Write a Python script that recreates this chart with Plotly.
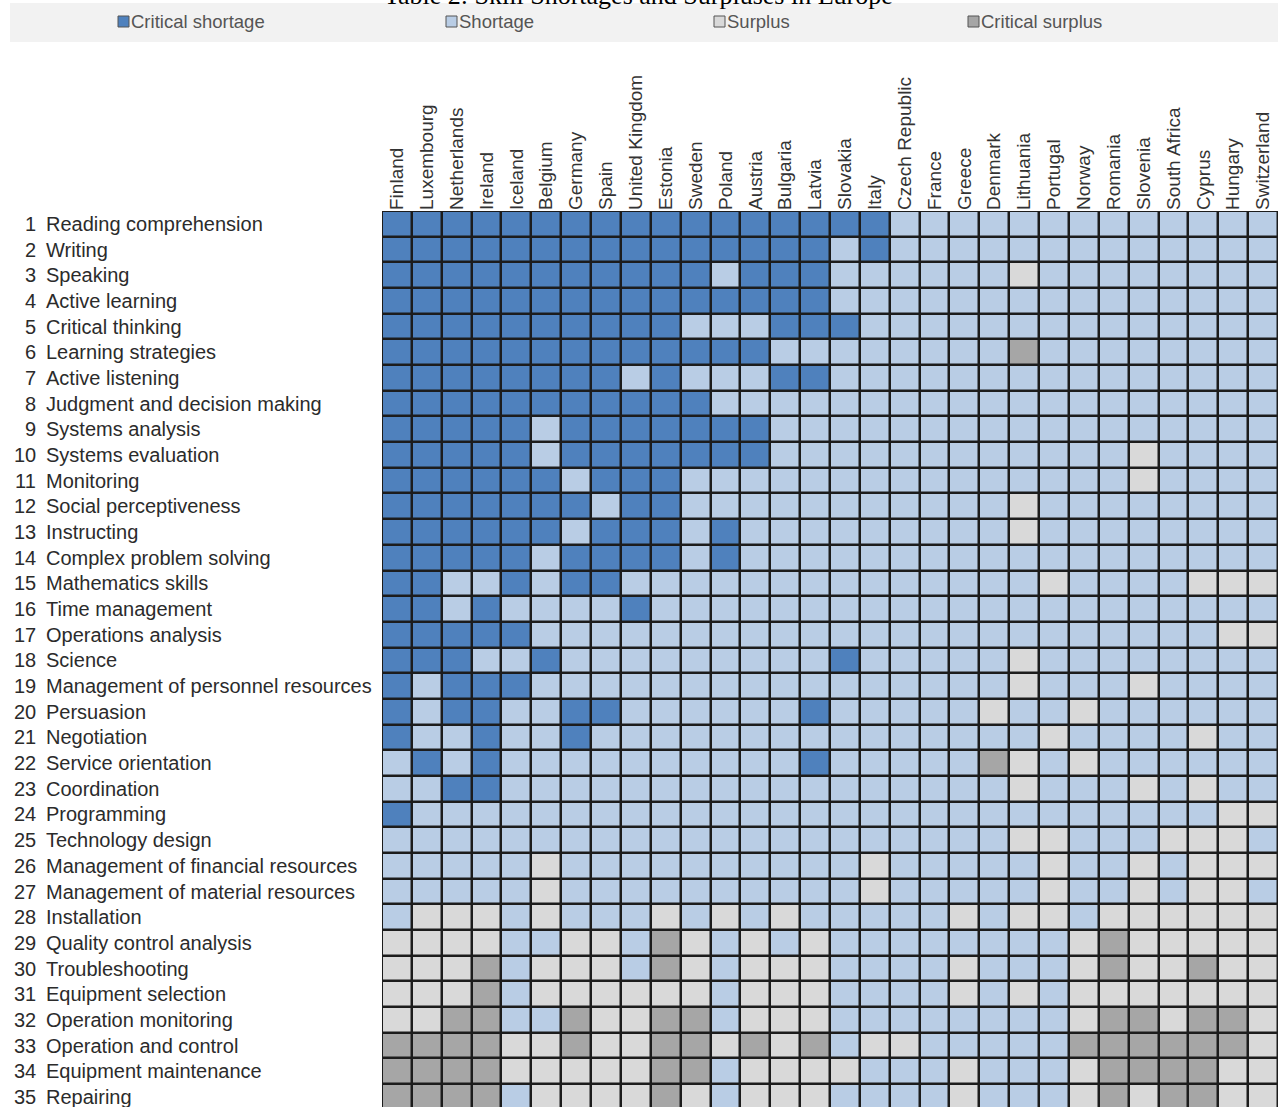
import plotly.graph_objects as go

countries = ["Finland", "Luxembourg", "Netherlands", "Ireland", "Iceland", "Belgium", "Germany", "Spain",
             "United Kingdom", "Estonia", "Sweden", "Poland", "Austria", "Bulgaria", "Latvia", "Slovakia",
             "Italy", "Czech Republic", "France", "Greece", "Denmark", "Lithuania", "Portugal", "Norway",
             "Romania", "Slovenia", "South Africa", "Cyprus", "Hungary", "Switzerland"]

skills = ["Reading comprehension", "Writing", "Speaking", "Active learning", "Critical thinking",
          "Learning strategies", "Active listening", "Judgment and decision making", "Systems analysis",
          "Systems evaluation", "Monitoring", "Social perceptiveness", "Instructing", "Complex problem solving",
          "Mathematics skills", "Time management", "Operations analysis", "Science",
          "Management of personnel resources", "Persuasion", "Negotiation", "Service orientation",
          "Coordination", "Programming", "Technology design", "Management of financial resources",
          "Management of material resources", "Installation", "Quality control analysis", "Troubleshooting",
          "Equipment selection", "Operation monitoring", "Operation and control", "Equipment maintenance",
          "Repairing"]

# 3 = Critical shortage, 2 = Shortage, 1 = Surplus, 0 = Critical surplus (one string per skill, 30 countries)
status_rows = [
    "3333333333 3333333222 2222222222",
    "3333333333 3333323222 2222222222",
    "3333333333 3233322222 2122222222",
    "3333333333 3333322222 2222222222",
    "3333333333 2223332222 2222222222",
    "3333333333 3332222222 2022222222",
    "3333333323 2223322222 2222222222",
    "3333333333 3222222222 2222222222",
    "3333323333 3332222222 2222222222",
    "3333323333 3332222222 2222212222",
    "3333332333 2222222222 2222212222",
    "3333333233 2222222222 2122222222",
    "3333332333 2322222222 2122222222",
    "3333323333 2322222222 2222222222",
    "3322323322 2222222222 2212222111",
    "3323222232 2222222222 2222222222",
    "3333322222 2222222222 2222222211",
    "3332232222 2222232222 2122222222",
    "3233322222 2222222222 2122212222",
    "3233223322 2222322222 1221222222",
    "3223223222 2222222222 2212222122",
    "2323222222 2222322222 0121222222",
    "2233222222 2222222222 2122212122",
    "3222222222 2222222222 2222222211",
    "2222222222 2222222222 2112221112",
    "2222212222 2222221222 2212212111",
    "2222212222 2222221222 2212212112",
    "2111212221 2121222221 2112111111",
    "1111221120 1212122222 2221011111",
    "1110211120 1211122221 2221011011",
    "1110211111 1211122221 2121111111",
    "1100220110 0211122222 2221001001",
    "0000110110 0101021122 2220000001",
    "0000111110 0211112221 2221000011",
    "0000211110 1211122221 2221010011",
]

status_names = ["Critical surplus", "Surplus", "Shortage", "Critical shortage"]
status_colors = ["#a6a6a6", "#d9d9d9", "#b9cde5", "#4f81bd"]
legend_order = [3, 2, 1, 0]
legend_x_px = [118, 446, 714, 968]

title_text = "Table 2: Skill Shortages and Surpluses in Europe"

z = [[int(c) for c in row.replace(" ", "")] for row in status_rows]

# page geometry (pixels)
W, H = 1278, 1107
L, R, T, B = 382, 1278, 211, 1107
row_h = 25.68
n_rows_visible = (B - T) / row_h


def px(x):
    return (x - L) / (R - L)


def py(y):
    return (B - y) / (B - T)


cs = []
for i, c in enumerate(status_colors):
    cs.append([i / 4, c])
    cs.append([(i + 1) / 4, c])

fig = go.Figure()
fig.add_trace(go.Heatmap(
    z=z,
    x=list(range(len(countries))),
    y=list(range(len(skills))),
    colorscale=cs,
    zmin=-0.5, zmax=3.5,
    showscale=False,
    xgap=2.5, ygap=2.5,
    customdata=[[status_names[v] for v in row] for row in z],
    hovertemplate="%{customdata}<extra></extra>",
))

annotations = []
shapes = []

label_font = dict(family="Liberation Sans, Arial, sans-serif", size=20, color="#2b2b2b")

# row labels
for i, s in enumerate(skills):
    annotations.append(dict(x=px(38), y=i, xref="paper", yref="y", text=str(i + 1),
                            xanchor="right", yanchor="middle", showarrow=False, font=label_font))
    annotations.append(dict(x=px(44), y=i, xref="paper", yref="y", text=s,
                            xanchor="left", yanchor="middle", showarrow=False, font=label_font))

# legend band
shapes.append(dict(type="rect", xref="paper", yref="paper", x0=px(10), x1=px(1278), y0=py(42), y1=py(3),
                   fillcolor="#f2f2f2", line=dict(width=0), layer="below"))
for k, xpx in zip(legend_order, legend_x_px):
    shapes.append(dict(type="rect", xref="paper", yref="paper", x0=px(xpx), x1=px(xpx + 11),
                       y0=py(27), y1=py(16), fillcolor=status_colors[k],
                       line=dict(color="#555555", width=1)))
    annotations.append(dict(x=px(xpx + 11), y=py(21.5), xref="paper", yref="paper", text=status_names[k],
                            xanchor="left", yanchor="middle", showarrow=False,
                            font=dict(family="Liberation Sans, Arial, sans-serif",
                                      size=18.5, color="#555555")))

# title (cut off at the top of the page, as in the reference)
annotations.append(dict(x=px(638), y=py(12), xref="paper", yref="paper", text=title_text,
                        xanchor="center", yanchor="bottom", showarrow=False,
                        font=dict(family="Liberation Serif, Times New Roman, serif", size=26, color="#000000")))

fig.update_layout(
    width=W, height=H,
    margin=dict(l=L, r=W - R, t=T, b=H - B, pad=0),
    paper_bgcolor="white",
    plot_bgcolor="#1c1c1c",
    showlegend=False,
    annotations=annotations,
    shapes=shapes,
    xaxis=dict(range=[-0.5, len(countries) - 0.5], side="top", tickmode="array",
               tickvals=list(range(len(countries))), ticktext=countries, tickangle=-90,
               tickfont=dict(family="Liberation Sans, Arial, sans-serif", size=19, color="#333333"),
               ticks="", showgrid=False, zeroline=False, automargin=False, showline=False),
    yaxis=dict(range=[-0.5 + n_rows_visible, -0.5], showticklabels=False, ticks="",
               showgrid=False, zeroline=False, automargin=False, showline=False),
)

fig.write_html("out.html", config={"displayModeBar": False},
               post_script="document.body.style.margin='0';document.body.style.overflow='hidden';")
